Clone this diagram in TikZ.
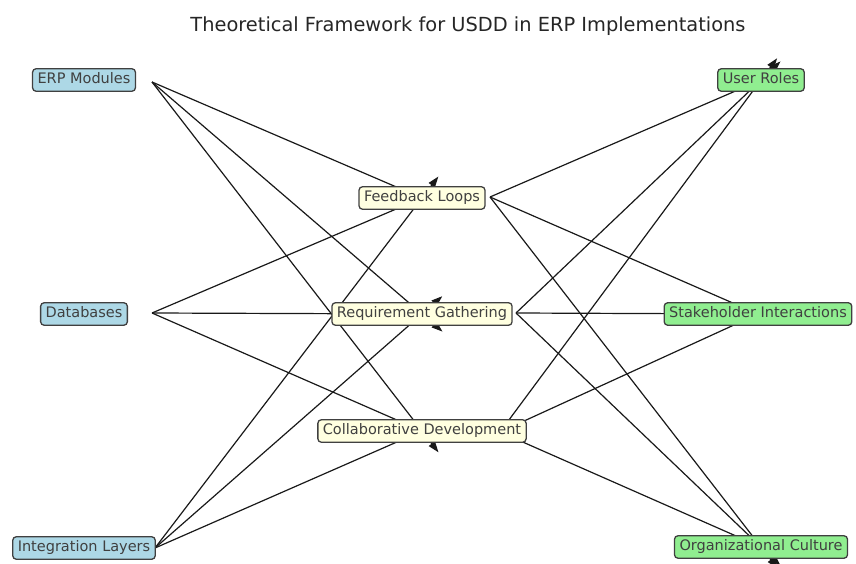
\documentclass[tikz,border=0pt]{standalone}
\usepackage{fontspec}
\setmainfont{DejaVu Sans}
\usetikzlibrary{arrows.meta,positioning,backgrounds}
\definecolor{boxblue}{RGB}{173,216,230}
\definecolor{boxyellow}{RGB}{255,255,224}
\definecolor{boxgreen}{RGB}{144,238,144}

\begin{document}
\begin{tikzpicture}[
      x=1pt, y=-1pt,
      box/.style={
          rectangle, draw=black!75, line width=1.3pt, rounded corners=3.5pt,
          text=black!75, font=\fontsize{14.5}{17}\selectfont,
          inner xsep=5pt, inner ysep=4pt,
          text height=11pt, text depth=3.5pt
        },
      module/.style={box, fill=boxblue},
      process/.style={box, fill=boxyellow},
      outcome/.style={box, fill=boxgreen},
      link/.style={draw=black!90, line width=1.2pt,
          -{Triangle[length=11pt,width=7.5pt]},
          shorten >=-27pt},   % tips run past the centre, as in the source
    ]
    \useasboundingbox (0,0) rectangle (856,564);
    \node[font=\fontsize{19.4}{23}\selectfont, text=black!85] (title) at (468,26)
        {Theoretical Framework for USDD in ERP Implementations};

    % system side
    \node[module] (erp) at (84,80)  {ERP Modules};
    \node[module] (db)  at (84,314) {Databases};
    \node[module] (il)  at (84,548) {Integration Layers};

    % design process
    \node[process] (fl) at (422,198) {Feedback Loops};
    \node[process] (rg) at (422,314) {Requirement Gathering};
    \node[process] (cd) at (422,431) {Collaborative Development};

    % user side
    \node[outcome] (ur) at (761,80)  {User Roles};
    \node[outcome] (si) at (758,314) {Stakeholder Interactions};
    \node[outcome] (oc) at (761,547) {Organizational Culture};

    % where the edges leave each node
    \coordinate (erp-out) at (152,82);
    \coordinate (db-out)  at (152,313);
    \coordinate (il-out)  at (155,548);
    \coordinate (fl-out)  at (490,197);
    \coordinate (rg-out)  at (516,313);
    \coordinate (cd-out)  at (500,432);

    \begin{scope}[on background layer]
      \foreach \src in {erp,db,il}
        \foreach \dst in {fl,rg,cd}
          \draw[link] (\src-out) -- (\dst.center);
      \foreach \src in {fl,rg,cd}
        \foreach \dst in {ur,si,oc}
          \draw[link] (\src-out) -- (\dst.center);
    \end{scope}
  \end{tikzpicture}
\end{document}
